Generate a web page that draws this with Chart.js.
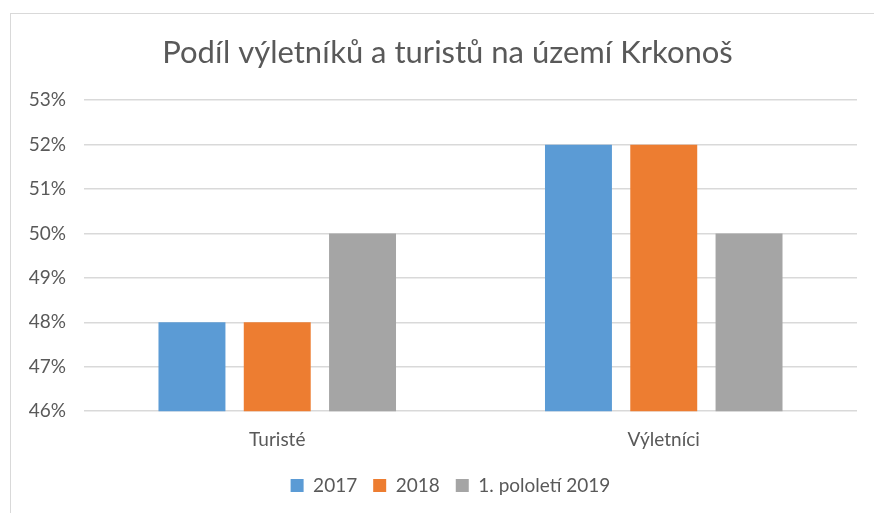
<!DOCTYPE html>
<html><head><meta charset="utf-8">
<script src="https://cdn.jsdelivr.net/npm/chart.js@4/dist/chart.umd.min.js"></script>
<style>
html,body{margin:0;padding:0;background:#fff;overflow:hidden;}
#wrap{position:relative;width:874px;height:513px;}
#frame{position:absolute;left:10px;top:13px;width:880px;height:520px;border:1.5px solid #d9d9d9;box-sizing:border-box;}
canvas{position:absolute;left:0;top:0;}
</style></head>
<body>
<div id="wrap"><div id="frame"></div><canvas id="c" width="874" height="513"></canvas></div>
<script>
const categories = ["Turisté", "Výletníci"];
const seriesNames = ["2017", "2018", "1. pololetí 2019"];
const values2017 = [48, 52];
const values2018 = [48, 52];
const values2019H1 = [50, 50];
const colors = ["#5B9BD5", "#ED7D31", "#A5A5A5"];
const yMin = 46, yMax = 53, yStep = 1;
const titleText = "Podíl výletníků a turistů na území Krkonoš";

const FONT = "Lato, 'Open Sans', sans-serif";
const TXT = "#595959";

const shiftPlugin = {
  id: 'shift',
  afterLayout(chart) {
    if (chart.titleBlock) { chart.titleBlock.left += 9; chart.titleBlock.right += 9; }
    if (chart.legend) { chart.legend.left += 12; chart.legend.right += 12; }
  }
};

new Chart(document.getElementById('c'), {
  type: 'bar',
  data: {
    labels: categories,
    datasets: [values2017, values2018, values2019H1].map((d, i) => ({
      label: seriesNames[i], data: d, backgroundColor: colors[i],
      categoryPercentage: 0.662, barPercentage: 0.785
    }))
  },
  plugins: [shiftPlugin],
  options: {
    responsive: false, animation: false,
    layout: { padding: { left: 20, right: 17, top: 20, bottom: 8 } },
    plugins: {
      title: { display: true, text: titleText, color: TXT,
        font: { family: FONT, size: 31, weight: 'normal' }, padding: { top: 14, bottom: 29 } },
      legend: { position: 'bottom', labels: { color: TXT, font: { family: FONT, size: 19 },
        boxWidth: 13, boxHeight: 13, padding: 16 } },
      tooltip: { enabled: false }
    },
    scales: {
      x: { grid: { display: false }, border: { display: false },
        ticks: { color: TXT, font: { family: FONT, size: 19 }, padding: 9 } },
      y: { min: yMin, max: yMax,
        grid: { color: '#d9d9d9', lineWidth: 1.5, drawTicks: false },
        border: { display: false },
        afterFit: s => { s.width = 64; },
        ticks: { stepSize: yStep, color: TXT, font: { family: FONT, size: 19 }, padding: 18,
          callback: v => v + '%' } }
    }
  }
});
</script>
</body></html>
